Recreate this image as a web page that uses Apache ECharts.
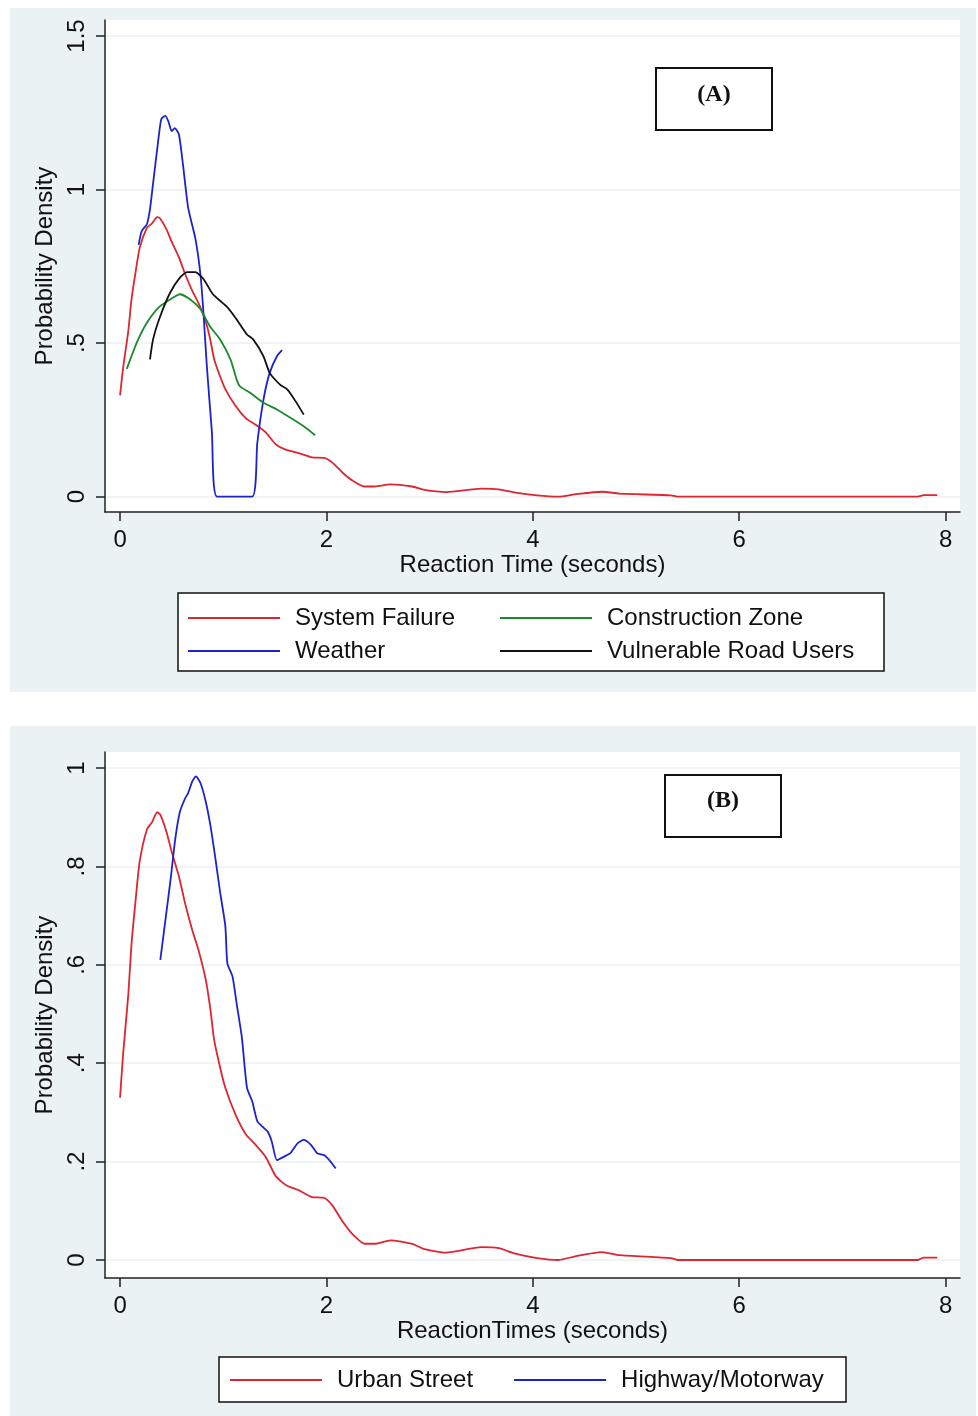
<!DOCTYPE html>
<html>
<head>
<meta charset="utf-8">
<title>Reaction time densities</title>
<script src="https://cdn.jsdelivr.net/npm/echarts@6/dist/echarts.min.js"></script>
<style>
  html, body { margin: 0; padding: 0; background: #fff; }
  #chart { width: 978px; height: 1416px; }
</style>
</head>
<body>
<div id="chart"></div>
<script>
// tick positions and labels (Stata style, no leading zero)
var xTicks = [0, 2, 4, 6, 8];
var yTicksA = [0, 0.5, 1, 1.5];
var yTicksB = [0, 0.2, 0.4, 0.6, 0.8, 1];

// panel A: [reaction time, density]
var systemFailure = [
	[0, 0.33], [0.03, 0.42], [0.08, 0.54], [0.11, 0.64], [0.15, 0.73], [0.19, 0.81],
	[0.26, 0.875], [0.31, 0.89], [0.36, 0.91], [0.39, 0.905], [0.45, 0.87], [0.5, 0.83],
	[0.57, 0.78], [0.63, 0.725], [0.7, 0.67], [0.76, 0.63], [0.83, 0.57], [0.875, 0.51],
	[0.91, 0.45], [0.96, 0.4], [1.02, 0.35], [1.12, 0.295], [1.22, 0.255], [1.31, 0.235],
	[1.41, 0.21], [1.51, 0.17], [1.61, 0.152], [1.73, 0.142], [1.86, 0.128], [1.98, 0.126],
	[2.06, 0.11], [2.16, 0.077], [2.25, 0.053], [2.37, 0.033], [2.47, 0.033], [2.62, 0.04],
	[2.83, 0.033], [2.95, 0.022], [3.16, 0.015], [3.5, 0.026], [3.67, 0.024], [3.83, 0.013],
	[4.04, 0.004], [4.25, 0], [4.42, 0.008], [4.67, 0.016], [4.84, 0.01], [5.34, 0.004],
	[5.4, 0], [7.73, 0], [7.79, 0.005], [7.92, 0.005]
];
var weather = [
	[0.18, 0.82], [0.21, 0.865], [0.26, 0.887], [0.29, 0.936], [0.32, 1.02], [0.37, 1.16],
	[0.4, 1.23], [0.44, 1.24], [0.47, 1.22], [0.5, 1.19], [0.53, 1.2], [0.57, 1.18],
	[0.61, 1.08], [0.66, 0.94], [0.73, 0.84], [0.78, 0.72], [0.81, 0.59], [0.84, 0.43],
	[0.89, 0.21], [0.94, 0], [1.28, 0], [1.33, 0.175], [1.39, 0.316], [1.45, 0.403],
	[1.52, 0.457], [1.57, 0.477]
];
var constructionZone = [
	[0.065, 0.416], [0.16, 0.5], [0.26, 0.566], [0.37, 0.615], [0.485, 0.642], [0.58, 0.659],
	[0.68, 0.642], [0.78, 0.61], [0.87, 0.555], [0.97, 0.512], [1.07, 0.447], [1.13, 0.381],
	[1.16, 0.36], [1.26, 0.338], [1.39, 0.306], [1.52, 0.284], [1.65, 0.257], [1.78, 0.229],
	[1.89, 0.2]
];
var vulnerableUsers = [
	[0.29, 0.447], [0.32, 0.512], [0.39, 0.588], [0.485, 0.664], [0.58, 0.713], [0.65, 0.731],
	[0.73, 0.731], [0.81, 0.708], [0.9, 0.659], [1.03, 0.62], [1.13, 0.577], [1.23, 0.528],
	[1.29, 0.512], [1.39, 0.457], [1.45, 0.403], [1.55, 0.365], [1.62, 0.349], [1.7, 0.311],
	[1.78, 0.267]
];

// panel B
var urbanStreet = [
	[0, 0.33], [0.03, 0.42], [0.08, 0.54], [0.11, 0.64], [0.15, 0.73], [0.19, 0.81],
	[0.26, 0.875], [0.31, 0.89], [0.36, 0.91], [0.39, 0.905], [0.45, 0.87], [0.5, 0.83],
	[0.57, 0.78], [0.63, 0.725], [0.7, 0.67], [0.76, 0.63], [0.83, 0.57], [0.875, 0.51],
	[0.91, 0.45], [0.96, 0.4], [1.02, 0.35], [1.12, 0.295], [1.22, 0.255], [1.31, 0.235],
	[1.41, 0.21], [1.51, 0.17], [1.61, 0.152], [1.73, 0.142], [1.86, 0.128], [1.98, 0.126],
	[2.06, 0.11], [2.16, 0.077], [2.25, 0.053], [2.37, 0.033], [2.47, 0.033], [2.62, 0.04],
	[2.83, 0.033], [2.95, 0.022], [3.16, 0.015], [3.5, 0.026], [3.67, 0.024], [3.83, 0.013],
	[4.04, 0.004], [4.25, 0], [4.42, 0.008], [4.67, 0.016], [4.84, 0.01], [5.34, 0.004],
	[5.4, 0], [7.73, 0], [7.79, 0.005], [7.92, 0.005]
];
var highway = [
	[0.39, 0.61], [0.44, 0.692], [0.49, 0.774], [0.535, 0.856], [0.58, 0.911], [0.63, 0.938],
	[0.66, 0.949], [0.7, 0.973], [0.735, 0.983], [0.78, 0.969], [0.83, 0.932], [0.875, 0.884],
	[0.92, 0.822], [0.97, 0.747], [1.02, 0.679], [1.04, 0.603], [1.09, 0.576], [1.13, 0.521],
	[1.18, 0.453], [1.23, 0.35], [1.28, 0.323], [1.33, 0.282], [1.38, 0.271], [1.43, 0.261],
	[1.47, 0.241], [1.52, 0.203], [1.59, 0.21], [1.65, 0.217], [1.72, 0.237], [1.78, 0.244],
	[1.85, 0.234], [1.91, 0.217], [1.98, 0.213], [2.04, 0.2], [2.09, 0.186]
];

var FONT = '"Liberation Sans", Arial, sans-serif';
var BG = '#eaf2f3';
var RED = '#dc2630', BLUE = '#1e22cc', GREEN = '#1b8a2c', BLACK = '#111111';

function stataLabel( v ) {
	if ( v === 0 ) return '0';
	return String( v ).replace( /^0\./, '.' );
}

function xAxisOpt( idx, name ) {
	return {
		type: 'value', gridIndex: idx, min: -0.146, max: 8.14,
		name: name, nameLocation: 'middle', nameGap: 40,
		nameTextStyle: { fontFamily: FONT, fontSize: 24, color: '#111' },
		axisLine: { show: true, onZero: false, lineStyle: { color: '#222', width: 1.5 } },
		axisTick: { show: true, length: 9, customValues: xTicks, lineStyle: { color: '#222', width: 1.5 } },
		axisLabel: { customValues: xTicks, fontFamily: FONT, fontSize: 24, color: '#111', margin: 16 },
		splitLine: { show: false }
	};
}

function yAxisOpt( idx, ticks, min, max ) {
	return {
		type: 'value', gridIndex: idx, min: min, max: max,
		name: 'Probability Density', nameLocation: 'middle', nameGap: 46,
		nameTextStyle: { fontFamily: FONT, fontSize: 24, color: '#111' },
		axisLine: { show: true, onZero: false, lineStyle: { color: '#222', width: 1.5 } },
		axisTick: { show: true, length: 9, customValues: ticks, lineStyle: { color: '#222', width: 1.5 } },
		axisLabel: {
			customValues: ticks, rotate: 90, fontFamily: FONT, fontSize: 24, color: '#111', margin: 16,
			formatter: stataLabel
		},
		splitLine: { show: true, lineStyle: { color: BG, width: 1.5 } }
	};
}

function line( name, data, color, idx ) {
	return {
		name: name, type: 'line', data: data, xAxisIndex: idx, yAxisIndex: idx,
		showSymbol: false, symbol: 'none', smooth: 0.2, color: color,
		lineStyle: { color: color, width: 1.8 }, animation: false
	};
}

var legendBase = {
	icon: 'rect', itemWidth: 92, itemHeight: 2, padding: 0,
	textStyle: { fontFamily: FONT, fontSize: 24, color: '#111', lineHeight: 26, padding: [0, 0, 0, 10] },
	selectedMode: false
};

var chart = echarts.init( document.getElementById( 'chart' ) );

var option = {
	backgroundColor: '#ffffff',
	animation: false,
	grid: [
		{ left: 105, top: 20, width: 855, height: 492, show: true, backgroundColor: '#fff', borderWidth: 0, containLabel: false },
		{ left: 105, top: 752, width: 855, height: 526, show: true, backgroundColor: '#fff', borderWidth: 0, containLabel: false }
	],
	xAxis: [
		xAxisOpt( 0, 'Reaction Time (seconds)' ),
		xAxisOpt( 1, 'ReactionTimes (seconds)' )
	],
	yAxis: [
		yAxisOpt( 0, yTicksA, -0.05, 1.552 ),
		yAxisOpt( 1, yTicksB, -0.0366, 1.0325 )
	],
	legend: [
		Object.assign( {}, legendBase, { orient: 'vertical', left: 188, top: 605, itemGap: 7, data: [ 'System Failure', 'Weather' ] } ),
		Object.assign( {}, legendBase, { orient: 'vertical', left: 500, top: 605, itemGap: 7, data: [ 'Construction Zone', 'Vulnerable Road Users' ] } ),
		Object.assign( {}, legendBase, { orient: 'horizontal', left: 230, top: 1367, itemGap: 41, data: [ 'Urban Street', 'Highway/Motorway' ] } )
	],
	series: [
		line( 'System Failure', systemFailure, RED, 0 ),
		line( 'Weather', weather, BLUE, 0 ),
		line( 'Construction Zone', constructionZone, GREEN, 0 ),
		line( 'Vulnerable Road Users', vulnerableUsers, BLACK, 0 ),
		line( 'Urban Street', urbanStreet, RED, 1 ),
		line( 'Highway/Motorway', highway, BLUE, 1 )
	],
	graphic: [
		// panel backgrounds
		{ type: 'rect', z: -100, shape: { x: 10, y: 8, width: 966, height: 684 }, style: { fill: BG } },
		{ type: 'rect', z: -100, shape: { x: 10, y: 726, width: 966, height: 690 }, style: { fill: BG } },
		// legend frames
		{ type: 'rect', z: 1, shape: { x: 178, y: 593, width: 706, height: 78 }, style: { fill: '#fff', stroke: '#111', lineWidth: 1.5 } },
		{ type: 'rect', z: 1, shape: { x: 219, y: 1357, width: 627, height: 45 }, style: { fill: '#fff', stroke: '#111', lineWidth: 1.5 } },
		// panel tags
		{ type: 'rect', z: 50, shape: { x: 656, y: 68, width: 116, height: 62 }, style: { fill: '#fff', stroke: '#111', lineWidth: 2 } },
		{ type: 'text', z: 51, x: 714, y: 95, style: { text: '(A)', font: 'bold 24px "Liberation Serif", "Times New Roman", serif', fill: '#111', align: 'center', verticalAlign: 'middle' } },
		{ type: 'rect', z: 50, shape: { x: 665, y: 775, width: 116, height: 62 }, style: { fill: '#fff', stroke: '#111', lineWidth: 2 } },
		{ type: 'text', z: 51, x: 723, y: 801, style: { text: '(B)', font: 'bold 24px "Liberation Serif", "Times New Roman", serif', fill: '#111', align: 'center', verticalAlign: 'middle' } }
	]
};

chart.setOption( option );
</script>
</body>
</html>
